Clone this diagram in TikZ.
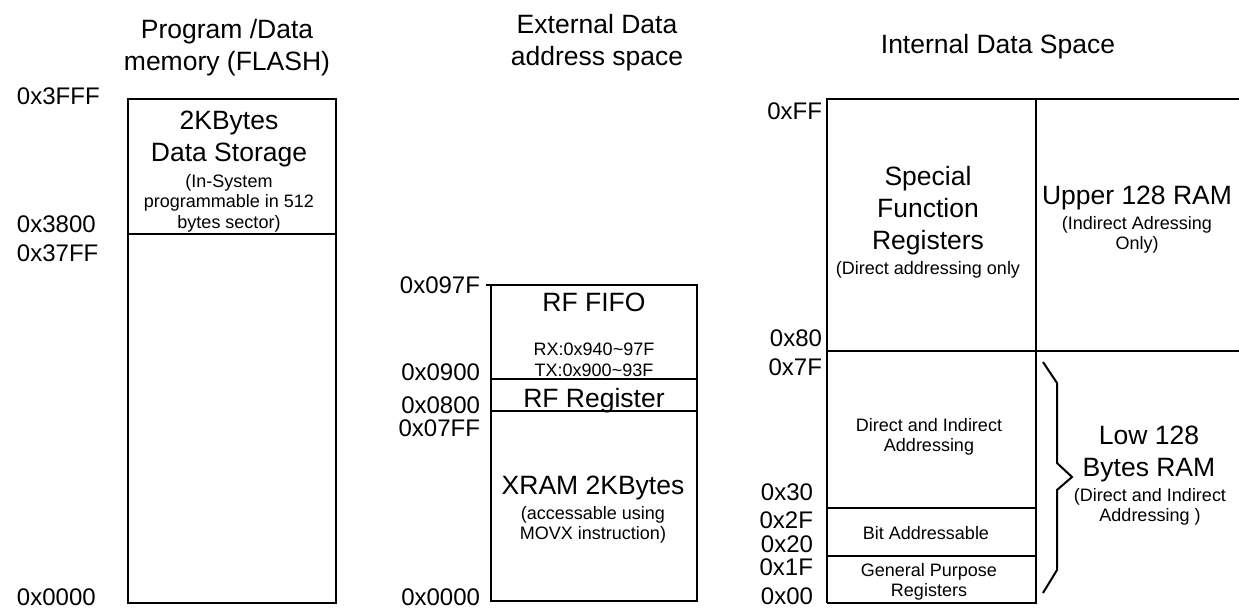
\documentclass[tikz,border=0pt]{standalone}
\usepackage{fontspec}
\setmainfont{Liberation Sans}

\begin{document}
\begin{tikzpicture}[x=0.5pt, y=-0.5pt, line width=1pt,
	big/.style = {font=\fontsize{13.25}{16}\selectfont, align=center, inner sep=0, anchor=north},
	small/.style = {font=\fontsize{9}{10.25}\selectfont, align=center, inner sep=0, anchor=north},
	addr/.style = {font=\fontsize{12}{14}\selectfont, inner sep=0}]
		\useasboundingbox (0,0) rectangle (1239,610);
		
		\node[big] (flashT) at (227,18) {Program /Data\\memory (FLASH)};
		\node[big] (xdataT) at (597,13) {External Data\\address space};
		\node[big] (idataT) at (998,33) {Internal Data Space};
		
		\draw (128,99) rectangle (336,603);
		\draw (128,234) -- (336,234);
		\node[big] (flashStore) at (229,110) {2KBytes\\Data Storage};
		\node[small] (flashNote) at (229,173) {(In-System\\programmable in 512\\bytes sector)};
		\node[addr, anchor=base west] (a3FFF) at (16,105) {0x3FFF};
		\node[addr, anchor=base west] (a3800) at (16,233) {0x3800};
		\node[addr, anchor=base west] (a37FF) at (16,262) {0x37FF};
		\node[addr, anchor=base west] (aF0000) at (16,605) {0x0000};
		
		\draw (486,285) -| (697,601) -| (491,285);
		\draw (491,379) -- (697,379);
		\draw (491,411) -- (697,411);
		\node[big] (fifo) at (594,292) {RF FIFO};
		\node[small] (fifoNote) at (594,342) {RX:0x940\textasciitilde 97F\\TX:0x900\textasciitilde 93F};
		\node[big] (rfreg) at (594,387) {RF Register};
		\node[big] (xram) at (593,475) {XRAM 2KBytes};
		\node[small] (xramNote) at (593,505) {(accessable using\\MOVX instruction)};
		\node[addr, anchor=base east] (a097F) at (481,293) {0x097F};
		\node[addr, anchor=base east] (a0900) at (481,380) {0x0900};
		\node[addr, anchor=base east] (a0800) at (481,414) {0x0800};
		\node[addr, anchor=base east] (a07FF) at (481,437) {0x07FF};
		\node[addr, anchor=base east] (aX0000) at (481,605) {0x0000};
		
		\draw (827,603) -- (827,99) -- (1239,99);
		\draw (1036,99) -- (1036,603) -- (827,603);
		\draw (827,351) -- (1239,351);
		\draw (827,508) -- (1036,508);
		\draw (827,556) -- (1036,556);
		\node[big] (sfr) at (928,165) {Special\\Function\\Registers};
		\node[small] (sfrNote) at (928,260) {(Direct addressing only};
		\node[big] (upper) at (1137,185) {Upper 128 RAM};
		\node[small] (upperNote) at (1137,215) {(Indirect Adressing\\Only)};
		\node[small] (direct) at (929,417) {Direct and Indirect\\Addressing};
		\node[small] (bitaddr) at (926,525) {Bit Addressable};
		\node[small] (gpr) at (929,562) {General Purpose\\Registers};
		\node[big] (low) at (1149,425) {Low 128\\Bytes RAM};
		\node[small] (lowNote) at (1150,487) {(Direct and Indirect\\Addressing )};
		\draw (1043,362) -- (1057,383) -- (1057,463) -- (1072,477) -- (1057,490) -- (1057,570) -- (1043,593);
		\node[addr, anchor=base east] (aFF) at (823,120) {0xFF};
		\node[addr, anchor=base east] (a80) at (823,347) {0x80};
		\node[addr, anchor=base east] (a7F) at (823,375) {0x7F};
		\node[addr, anchor=base east] (a30) at (814,500) {0x30};
		\node[addr, anchor=base east] (a2F) at (814,528) {0x2F};
		\node[addr, anchor=base east] (a20) at (814,552) {0x20};
		\node[addr, anchor=base east] (a1F) at (814,575) {0x1F};
		\node[addr, anchor=base east] (a00) at (814,604) {0x00};
	\end{tikzpicture}
\end{document}
